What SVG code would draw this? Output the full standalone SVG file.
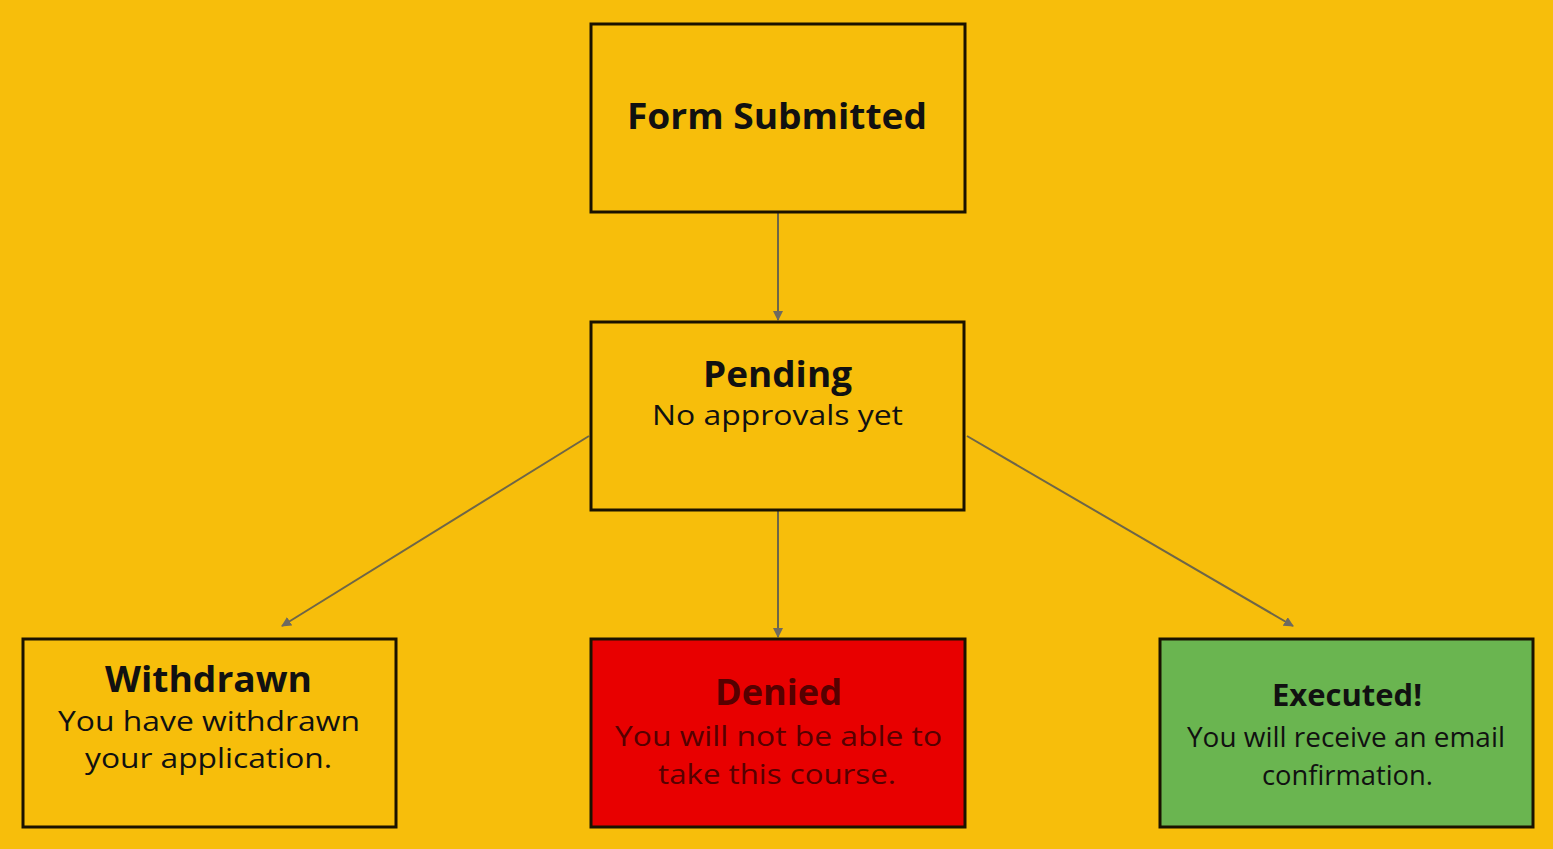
<svg xmlns="http://www.w3.org/2000/svg" width="1553" height="849" viewBox="0 0 1553 849">
<style>
.box{stroke:#1a1200;stroke-width:3}
.t{font-family:"Open Sans","Noto Sans",sans-serif;text-anchor:middle;fill:#111}
.b{font-weight:bold;font-size:35px}
.r{font-size:28px}
.dn{fill:#560000}
.c{stroke:#6e6648;stroke-width:2;fill:none;marker-end:url(#ah)}
</style>
<defs>
<marker id="ah" viewBox="0 0 10 10" refX="9" refY="5" markerWidth="10" markerHeight="10" markerUnits="userSpaceOnUse" orient="auto">
<path d="M0,0 L10,5 L0,10 z" fill="#6e6a60"/>
</marker>
</defs>
<rect width="1553" height="849" fill="#F7BE0B"/>
<g id="connectors">
<line class="c" x1="778" y1="213" x2="778" y2="320"/>
<line class="c" x1="778" y1="511" x2="778" y2="637"/>
<line class="c" x1="589" y1="436" x2="282" y2="626"/>
<line class="c" x1="967" y1="436" x2="1293" y2="626"/>
</g>
<g id="form-submitted">
<rect class="box" x="591" y="24" width="374" height="188" fill="#F7BE0B"/>
<text class="t b" x="777" y="129" style="font-size:36px" textLength="300" lengthAdjust="spacingAndGlyphs">Form Submitted</text>
</g>
<g id="pending">
<rect class="box" x="591" y="322" width="373" height="188" fill="#F7BE0B"/>
<text class="t b" x="777.5" y="387" textLength="149" lengthAdjust="spacingAndGlyphs">Pending</text>
<text class="t r" x="777.5" y="425" textLength="251" lengthAdjust="spacingAndGlyphs">No approvals yet</text>
</g>
<g id="withdrawn">
<rect class="box" x="23" y="639" width="373" height="188" fill="#F7BE0B"/>
<text class="t b" x="208.5" y="692" textLength="207" lengthAdjust="spacingAndGlyphs">Withdrawn</text>
<text class="t r" x="209" y="731" textLength="302" lengthAdjust="spacingAndGlyphs">You have withdrawn</text>
<text class="t r" x="208.5" y="768" textLength="247" lengthAdjust="spacingAndGlyphs">your application.</text>
</g>
<g id="denied">
<rect class="box" x="591" y="639" width="374" height="188" fill="#E80000"/>
<text class="t b dn" x="778.5" y="705" textLength="127" lengthAdjust="spacingAndGlyphs">Denied</text>
<text class="t r dn" x="778.5" y="746" textLength="327" lengthAdjust="spacingAndGlyphs">You will not be able to</text>
<text class="t r dn" x="777" y="784" textLength="238" lengthAdjust="spacingAndGlyphs">take this course.</text>
</g>
<g id="executed">
<rect class="box" x="1160" y="639" width="373" height="188" fill="#6AB550"/>
<text class="t" x="1347" y="706" style="font-weight:bold;font-size:31px" textLength="150" lengthAdjust="spacingAndGlyphs">Executed!</text>
<text class="t" x="1346" y="747" style="font-size:27px" textLength="318" lengthAdjust="spacingAndGlyphs">You will receive an email</text>
<text class="t" x="1347.5" y="785" style="font-size:27px" textLength="171" lengthAdjust="spacingAndGlyphs">confirmation.</text>
</g>
</svg>
